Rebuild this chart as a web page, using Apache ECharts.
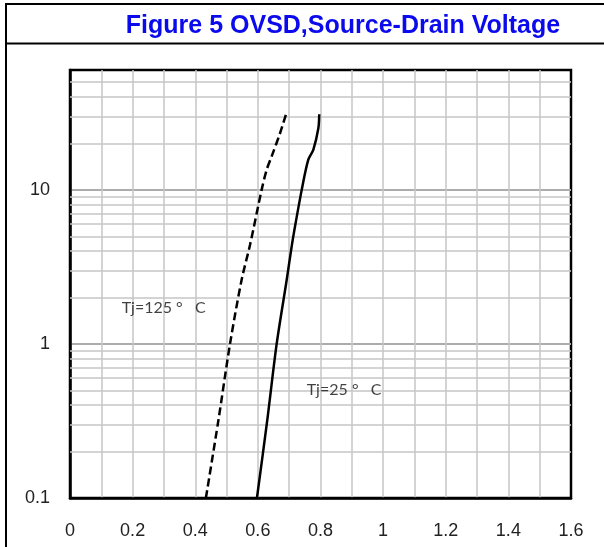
<!doctype html>
<meta charset="utf-8">
<style>
  html, body {
    margin: 0;
    height: 100%;
    background: #fff;
  }

  #chart {
    width: 604px;
    height: 547px;
  }
</style>
<script src="https://cdn.jsdelivr.net/npm/echarts@6/dist/echarts.min.js"></script>

<div id="chart"></div>

<script>
  // Tj = 25 C (solid) and Tj = 125 C (dashed), [VSD (V), IS (A)]
  const tj25 = [
    [0.597, 0.1], [0.630, 0.32], [0.660, 1.0], [0.692, 2.6], [0.708, 4.3],
    [0.716, 5.4], [0.740, 10], [0.761, 15.7], [0.777, 18.2], [0.793, 25], [0.796, 31]
  ]
  const tj125 = [
    [0.434, 0.1], [0.474, 0.32], [0.511, 1.0], [0.548, 2.6], [0.575, 4.4],
    [0.612, 10], [0.628, 13.5], [0.644, 16.5], [0.671, 23.4], [0.690, 31]
  ]
  const yTickLabels = [0.1, 1, 10]
  const yMinorLines = [0.2, 0.3, 0.4, 0.5, 0.6, 0.7, 0.8, 0.9, 2, 3, 4, 5, 6, 7, 8, 9, 20, 30, 40, 50]
  const curveNotes = [
    { text: 'Tj=125 °   C', at: [0.165, 1.72] },
    { text: 'Tj=25 °   C', at: [0.756, 0.50] },
  ]

  const gridGray = '#c6c6c6'
  const labelFont = { color: '#222', fontSize: 18, fontFamily: 'Liberation Sans, Arial, sans-serif' }
  let chart = echarts.init(document.getElementById('chart'))

  chart.setOption({
    animation: false,
    title: {
      text: 'Figure 5 OVSD,Source-Drain Voltage',
      left: 338,
      textAlign: 'center',
      top: 9,
      textStyle: {
        color: '#0a0aec',
        fontSize: 25,
        fontWeight: 'bold',
        fontFamily: 'Liberation Sans, Arial, sans-serif',
      },
    },
    graphic: [
      { type: 'line', shape: { x1: 6, y1: 4, x2: 604, y2: 4 }, style: { stroke: '#000', lineWidth: 2 } },
      { type: 'line', shape: { x1: 6, y1: 43.5, x2: 604, y2: 43.5 }, style: { stroke: '#000', lineWidth: 2 } },
      { type: 'line', shape: { x1: 6, y1: 3, x2: 6, y2: 547 }, style: { stroke: '#000', lineWidth: 2 } },
    ],
    grid: {
      left: 70,
      top: 70,
      right: 33,
      bottom: 49,
      show: true,
      borderColor: '#000',
      borderWidth: 2.5,
    },
    xAxis: {
      type: 'value',
      min: 0,
      max: 1.6,
      interval: 0.2,
      axisLine: { lineStyle: { color: '#000', width: 2.5 } },
      axisTick: { show: false },
      axisLabel: Object.assign({ margin: 24 }, labelFont),
      splitLine: { showMinLine: false, showMaxLine: false, lineStyle: { color: gridGray, width: 1.5 } },
      minorTick: { show: false, splitNumber: 2 },
      minorSplitLine: { show: true, lineStyle: { color: gridGray, width: 1.5 } },
    },
    yAxis: {
      type: 'log',
      logBase: 10,
      min: 0.1,
      max: 60,
      axisLine: { show: true, lineStyle: { color: '#000', width: 2.5 } },
      axisTick: { show: false },
      axisLabel: Object.assign({
        margin: 20,
        formatter: v => yTickLabels.some(t => Math.abs(t - v) < 1e-9) ? String(v) : '',
      }, labelFont),
      splitLine: { showMinLine: false, showMaxLine: false, lineStyle: { color: '#acacac', width: 2 } },
    },
    series: [
      {
        type: 'line',
        data: tj25,
        symbol: 'none',
        smooth: 0.3,
        lineStyle: { color: '#000', width: 2.5 },
        z: 5,
        markLine: {
          silent: true,
          symbol: 'none',
          label: { show: false },
          lineStyle: { color: gridGray, width: 1.5, type: 'solid' },
          data: yMinorLines.map(v => ({ yAxis: v })),
          z: 1,
        },
      },
      {
        type: 'line',
        data: tj125,
        symbol: 'none',
        smooth: 0.3,
        lineStyle: { color: '#000', width: 2.5, type: [8, 4] },
        z: 5,
      },
      {
        type: 'scatter',
        symbolSize: 0,
        silent: true,
        data: curveNotes.map(n => ({ value: n.at, name: n.text })),
        label: {
          show: true,
          position: 'right',
          distance: 0,
          formatter: p => p.name,
          color: '#111',
          fontSize: 16,
          fontFamily: 'Lato, sans-serif',
        },
      },
    ],
  })
</script>
